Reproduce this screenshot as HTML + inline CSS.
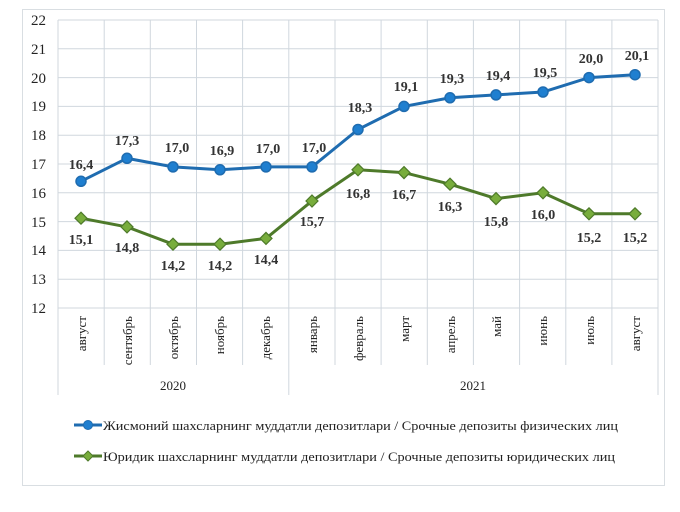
<!DOCTYPE html>
<html><head><meta charset="utf-8"><style>body{margin:0;background:#fff}svg{display:block}</style></head>
<body>
<svg width="680" height="512" xmlns="http://www.w3.org/2000/svg" font-family="'Liberation Serif', serif">
<rect x="0" y="0" width="680" height="512" fill="#fff"/>
<rect x="22.5" y="9.5" width="642" height="476" fill="#fff" stroke="#d9dee2"/>
<g stroke="#d0d7de" stroke-width="1">
<line x1="58" y1="20" x2="658" y2="20"/><line x1="58" y1="48.8" x2="658" y2="48.8"/><line x1="58" y1="77.6" x2="658" y2="77.6"/><line x1="58" y1="106.4" x2="658" y2="106.4"/><line x1="58" y1="135.2" x2="658" y2="135.2"/><line x1="58" y1="164" x2="658" y2="164"/><line x1="58" y1="192.8" x2="658" y2="192.8"/><line x1="58" y1="221.6" x2="658" y2="221.6"/><line x1="58" y1="250.4" x2="658" y2="250.4"/><line x1="58" y1="279.2" x2="658" y2="279.2"/><line x1="58" y1="308" x2="658" y2="308"/>
<line x1="58" y1="20" x2="58" y2="395"/><line x1="104.2" y1="20" x2="104.2" y2="365"/><line x1="150.3" y1="20" x2="150.3" y2="365"/><line x1="196.5" y1="20" x2="196.5" y2="365"/><line x1="242.6" y1="20" x2="242.6" y2="365"/><line x1="288.8" y1="20" x2="288.8" y2="395"/><line x1="335" y1="20" x2="335" y2="365"/><line x1="381.1" y1="20" x2="381.1" y2="365"/><line x1="427.3" y1="20" x2="427.3" y2="365"/><line x1="473.4" y1="20" x2="473.4" y2="365"/><line x1="519.6" y1="20" x2="519.6" y2="365"/><line x1="565.8" y1="20" x2="565.8" y2="365"/><line x1="611.9" y1="20" x2="611.9" y2="365"/><line x1="658" y1="20" x2="658" y2="395"/>
</g>
<g font-size="15" fill="#222" text-anchor="end">
<text x="46" y="25">22</text><text x="46" y="54">21</text><text x="46" y="83">20</text><text x="46" y="111">19</text><text x="46" y="140">18</text><text x="46" y="169">17</text><text x="46" y="198">16</text><text x="46" y="227">15</text><text x="46" y="255">14</text><text x="46" y="284">13</text><text x="46" y="313">12</text>
</g>
<g font-size="13" fill="#222" text-anchor="end">
<text transform="translate(86,316) rotate(-90)">август</text>
<text transform="translate(132,316) rotate(-90)">сентябрь</text>
<text transform="translate(178,316) rotate(-90)">октябрь</text>
<text transform="translate(224,316) rotate(-90)">ноябрь</text>
<text transform="translate(270,316) rotate(-90)">декабрь</text>
<text transform="translate(317,316) rotate(-90)">январь</text>
<text transform="translate(363,316) rotate(-90)">феврaль</text>
<text transform="translate(409,316) rotate(-90)">март</text>
<text transform="translate(455,316) rotate(-90)">апрель</text>
<text transform="translate(501,316) rotate(-90)">май</text>
<text transform="translate(547,316) rotate(-90)">июнь</text>
<text transform="translate(594,316) rotate(-90)">июль</text>
<text transform="translate(640,316) rotate(-90)">август</text>
</g>
<g font-size="13" fill="#222" text-anchor="middle"><text x="173" y="390">2020</text><text x="473" y="390">2021</text></g>
<polyline fill="none" stroke="#1f6cb0" stroke-width="3" points="81,181.3 127,158.3 173,166.9 220,169.8 266,166.9 312,166.9 358,129.5 404,106.4 450,97.8 496,94.9 543,92 589,77.6 635,74.7"/>
<g fill="#1f7fd0" stroke="#1f6cb0" stroke-width="1.5">
<circle cx="81" cy="181.3" r="5"/><circle cx="127" cy="158.3" r="5"/><circle cx="173" cy="166.9" r="5"/><circle cx="220" cy="169.8" r="5"/><circle cx="266" cy="166.9" r="5"/><circle cx="312" cy="166.9" r="5"/><circle cx="358" cy="129.5" r="5"/><circle cx="404" cy="106.4" r="5"/><circle cx="450" cy="97.8" r="5"/><circle cx="496" cy="94.9" r="5"/><circle cx="543" cy="92" r="5"/><circle cx="589" cy="77.6" r="5"/><circle cx="635" cy="74.7" r="5"/>
</g>
<polyline fill="none" stroke="#4e7a2a" stroke-width="3" points="81,218.2 127,226.9 173,244.2 220,244.2 266,238.4 312,201.0 358,169.8 404,172.6 450,184.2 496,198.6 543,192.8 589,213.8 635,213.8"/>
<g fill="#78ad3c" stroke="#4e7a2a" stroke-width="1.2">
<polygon points="81,212.2 87,218.2 81,224.2 75,218.2"/><polygon points="127,220.9 133,226.9 127,232.9 121,226.9"/><polygon points="173,238.2 179,244.2 173,250.2 167,244.2"/><polygon points="220,238.2 226,244.2 220,250.2 214,244.2"/><polygon points="266,232.4 272,238.4 266,244.4 260,238.4"/><polygon points="312,195 318,201 312,207 306,201"/><polygon points="358,163.8 364,169.8 358,175.8 352,169.8"/><polygon points="404,166.6 410,172.6 404,178.6 398,172.6"/><polygon points="450,178.2 456,184.2 450,190.2 444,184.2"/><polygon points="496,192.6 502,198.6 496,204.6 490,198.6"/><polygon points="543,186.8 549,192.8 543,198.8 537,192.8"/><polygon points="589,207.8 595,213.8 589,219.8 583,213.8"/><polygon points="635,207.8 641,213.8 635,219.8 629,213.8"/>
</g>
<g font-size="14" font-weight="bold" fill="#333" text-anchor="middle">
<text x="81" y="169">16,4</text><text x="127" y="145">17,3</text><text x="177" y="152">17,0</text><text x="222" y="155">16,9</text><text x="268" y="153">17,0</text><text x="314" y="152">17,0</text><text x="360" y="112">18,3</text><text x="406" y="91">19,1</text><text x="452" y="83">19,3</text><text x="498" y="80">19,4</text><text x="545" y="77">19,5</text><text x="591" y="63">20,0</text><text x="637" y="60">20,1</text>
<text x="81" y="244">15,1</text><text x="127" y="252">14,8</text><text x="173" y="270">14,2</text><text x="220" y="270">14,2</text><text x="266" y="264">14,4</text><text x="312" y="226">15,7</text><text x="358" y="198">16,8</text><text x="404" y="199">16,7</text><text x="450" y="211">16,3</text><text x="496" y="226">15,8</text><text x="543" y="219">16,0</text><text x="589" y="242">15,2</text><text x="635" y="242">15,2</text>
</g>
<line x1="74" y1="425" x2="102" y2="425" stroke="#1f6cb0" stroke-width="3"/><circle cx="88" cy="425" r="4.5" fill="#1f7fd0" stroke="#1f6cb0"/>
<line x1="74" y1="456" x2="102" y2="456" stroke="#4e7a2a" stroke-width="3"/><polygon points="88,451 93,456 88,461 83,456" fill="#78ad3c" stroke="#4e7a2a"/>
<g font-size="13" fill="#222">
<text x="103" y="430" textLength="515" lengthAdjust="spacingAndGlyphs">Жисмоний шахсларнинг  муддатли  депозитлари / Срочные депозиты  физических  лиц</text>
<text x="103" y="461" textLength="512" lengthAdjust="spacingAndGlyphs">Юридик шахсларнинг  муддатли  депозитлари / Срочные депозиты юридических  лиц</text>
</g>
</svg>
</body></html>
